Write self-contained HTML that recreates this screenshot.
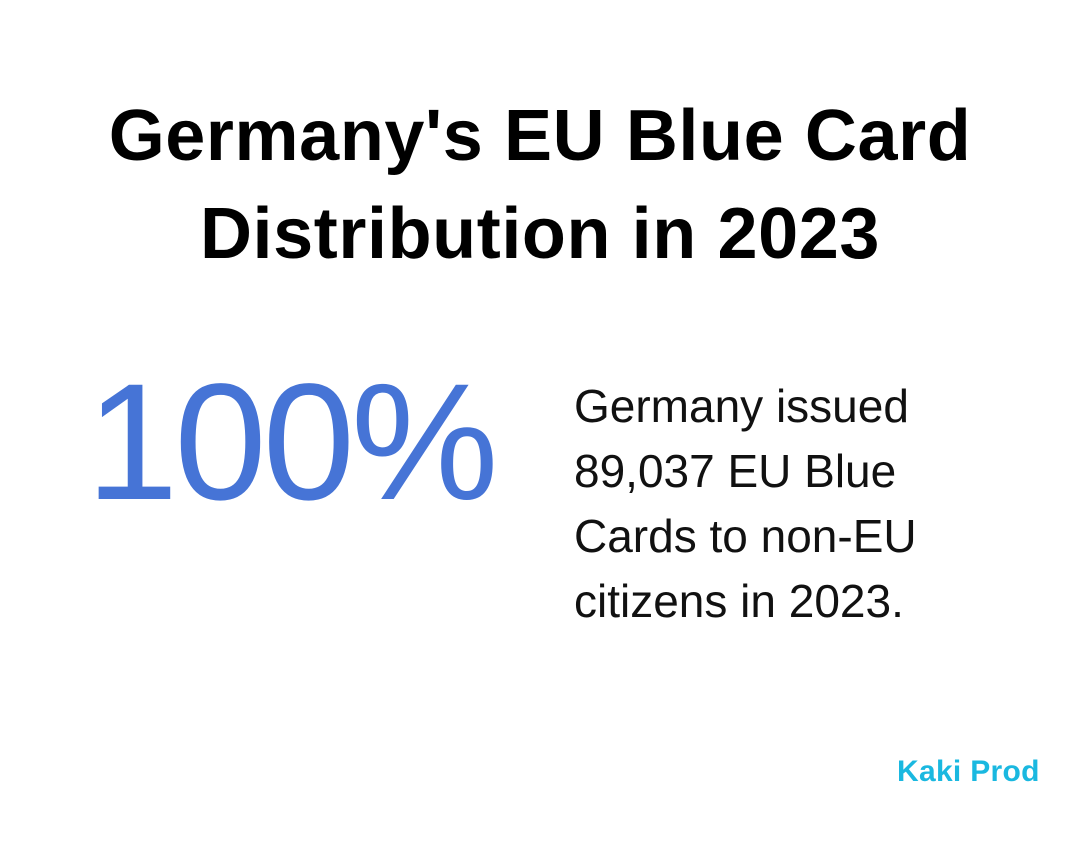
<!DOCTYPE html>
<html><head><meta charset="utf-8"><style>
html,body{margin:0;padding:0;background:#fff;}
body{width:1080px;height:856px;position:relative;overflow:hidden;font-family:"Liberation Sans",sans-serif;}
#title{position:absolute;left:0;width:1080px;top:87px;text-align:center;font-weight:bold;font-size:72px;line-height:98px;color:#000;letter-spacing:0.6px;}
#big{position:absolute;left:86px;top:348px;font-size:166px;color:#4674d6;line-height:190px;letter-spacing:-4px;}
#desc{position:absolute;left:574px;top:374px;font-size:46px;line-height:65px;color:#111;font-weight:300;}
#logo{position:absolute;left:897px;top:755px;font-size:30px;font-weight:bold;color:#1ab8e0;letter-spacing:0.3px;}
</style></head><body>
<div id="title">Germany's EU Blue Card<br>Distribution in 2023</div>
<div id="big">100%</div>
<div id="desc">Germany issued<br>89,037 EU Blue<br>Cards to non-EU<br>citizens in 2023.</div>
<div id="logo">Kaki Prod</div>
</body></html>
